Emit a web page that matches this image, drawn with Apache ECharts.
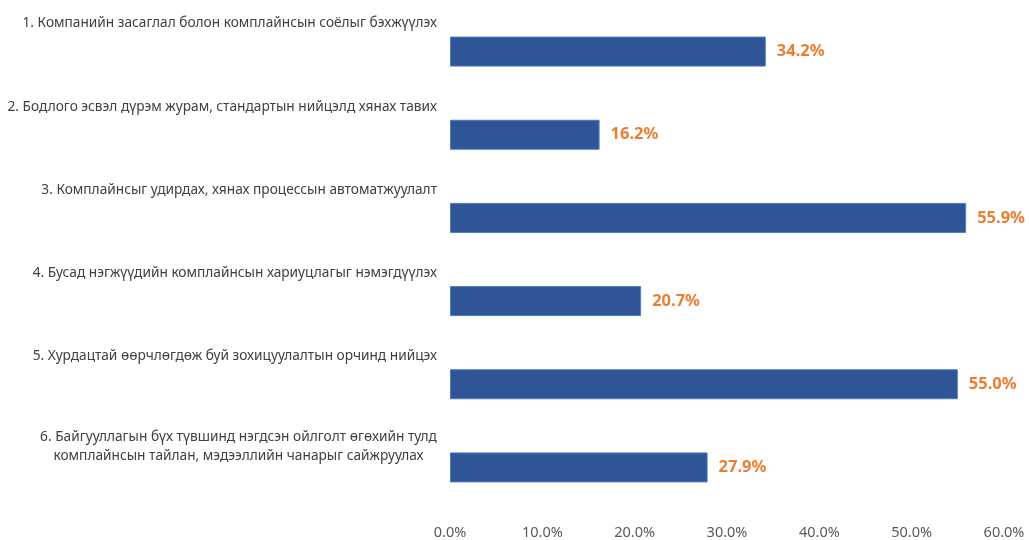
<!DOCTYPE html>
<html>
<head>
<meta charset="utf-8">
<script src="https://cdn.jsdelivr.net/npm/echarts@6/dist/echarts.min.js"></script>
<style>
  * { margin: 0; padding: 0; }
  html, body { background: #fff; }
  #main { width: 1029px; height: 540px; }
</style>
</head>
<body>
<div id="main"></div>
<script>
// категориуд (дээрээс доош)
var categories = [
  '1. Компанийн засаглал болон комплайнсын соёлыг бэхжүүлэх',
  '2. Бодлого эсвэл дүрэм журам, стандартын нийцэлд хянах тавих',
  '3. Комплайнсыг удирдах, хянах процессын автоматжуулалт',
  '4. Бусад нэгжүүдийн комплайнсын хариуцлагыг нэмэгдүүлэх',
  '5. Хурдацтай өөрчлөгдөж буй зохицуулалтын орчинд нийцэх',
  '6. Байгууллагын бүх түвшинд нэгдсэн ойлголт өгөхийн тулд\nкомплайнсын тайлан, мэдээллийн чанарыг сайжруулах'
]
var values = [34.2, 16.2, 55.9, 20.7, 55.0, 27.9]
var xTicks = [0, 10, 20, 30, 40, 50, 60]

var font = 'Noto Sans'
var catSize = 13.7
var myChart = echarts.init(document.getElementById('main'))

// хоёр мөртэй шошгыг голлуулахын тулд өргөнийг хэмжинэ
var ctx = document.createElement('canvas').getContext('2d')
ctx.font = catSize + 'px ' + font
function textWidth (s) { return Math.ceil(ctx.measureText(s).width) }
var twoLine = categories.filter(function (c) { return c.indexOf('\n') >= 0 })[0]
var w2 = Math.max.apply(null, twoLine.split('\n').map(textWidth))

var option = {
  animation: false,
  grid: { left: 450, right: 25, top: 10, bottom: 29, containLabel: false },
  xAxis: {
    type: 'value',
    min: xTicks[0],
    max: xTicks[xTicks.length - 1],
    interval: 10,
    axisLine: { show: false },
    axisTick: { show: false },
    splitLine: { show: false },
    axisLabel: {
      color: '#595959',
      fontFamily: font,
      fontSize: 14.5,
      margin: 16,
      formatter: function (v) { return v.toFixed(1) + '%' }
    }
  },
  yAxis: {
    type: 'category',
    inverse: true,
    data: categories,
    axisLine: { show: false },
    axisTick: { show: false },
    axisLabel: {
      interval: 0,
      hideOverlap: false,
      color: '#404040',
      fontFamily: font,
      fontSize: catSize,
      margin: 13,
      formatter: function (v) {
        var lines = v.split('\n')
        if (lines.length === 1) return '{s|' + v + '}\n{e1| }'
        return '{t|' + lines[0] + '}\n{t|' + lines[1] + '}\n{e2| }'
      },
      rich: {
        s: { fontFamily: font, fontSize: catSize, color: '#404040', lineHeight: 19 },
        t: { fontFamily: font, fontSize: catSize, color: '#404040', lineHeight: 19, width: w2, align: 'center' },
        e1: { fontSize: 1, lineHeight: 56 },
        e2: { fontSize: 1, lineHeight: 41 }
      }
    }
  },
  series: [{
    type: 'bar',
    data: values,
    barWidth: 30,
    itemStyle: {
      color: '#2F5597',
      borderColor: '#4F7BC8',
      borderWidth: 1
    },
    label: {
      show: true,
      position: 'right',
      distance: 11,
      padding: [4, 0, 0, 0],
      color: '#ED7D31',
      fontFamily: font,
      fontWeight: 'bold',
      fontSize: 16.5,
      formatter: function (p) { return p.value.toFixed(1) + '%' }
    }
  }]
}
myChart.setOption(option)
</script>
</body>
</html>
